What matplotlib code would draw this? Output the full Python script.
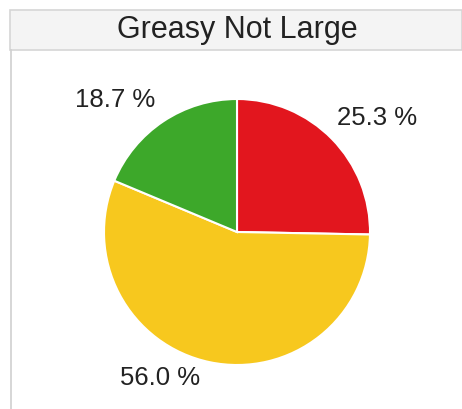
import matplotlib
matplotlib.use('Agg')
import matplotlib.pyplot as plt
from matplotlib.patches import Rectangle
from matplotlib.lines import Line2D

title = 'Greasy Not Large'
shares = [25.3, 56.0, 18.7]
labels = ['25.3 %', '56.0 %', '18.7 %']
colors = ['#E2161E', '#F7C81E', '#3DA82A']

W, H = 462, 409
fig = plt.figure(figsize=(W / 100, H / 100), dpi=100)
plt.rcParams['font.family'] = ['Liberation Sans', 'DejaVu Sans']

# header bar + left frame line (pixel coords -> figure fraction)
fig.patches.append(Rectangle((10 / W, 1 - 50 / H), (W - 10) / W, 40 / H,
                             transform=fig.transFigure, facecolor='#F4F4F4',
                             edgecolor='#D6D6D6', linewidth=1.2))
fig.lines.append(Line2D([10.5 / W, 10.5 / W], [0, 1 - 50 / H],
                        transform=fig.transFigure, color='#D0D0D0', linewidth=1.2))
fig.text(237 / W, 1 - 30 / H, title, ha='center', va='center',
         fontsize=22, color='#222222')

# pie: centre (237, 232) px, radius 133 px
cx, cy, r = 237, 232, 133
ax = fig.add_axes([(cx - r) / W, 1 - (cy + r) / H, 2 * r / W, 2 * r / H])
ax.pie(shares, colors=colors, startangle=90, counterclock=False,
       wedgeprops=dict(edgecolor='white', linewidth=1.5))
ax.set_xlim(-1, 1)
ax.set_ylim(-1, 1)
ax.set_aspect('equal')
ax.axis('off')

# label placement (in pie-radius units)
label_xy = [(1.05, 0.86), (-0.58, -1.10), (-0.92, 0.99)]
for (lx, ly), txt in zip(label_xy, labels):
    ax.text(lx, ly, txt, ha='center', va='center', fontsize=18.5,
            color='#222222', clip_on=False)

plt.savefig('out.png', dpi=100)
plt.close()
